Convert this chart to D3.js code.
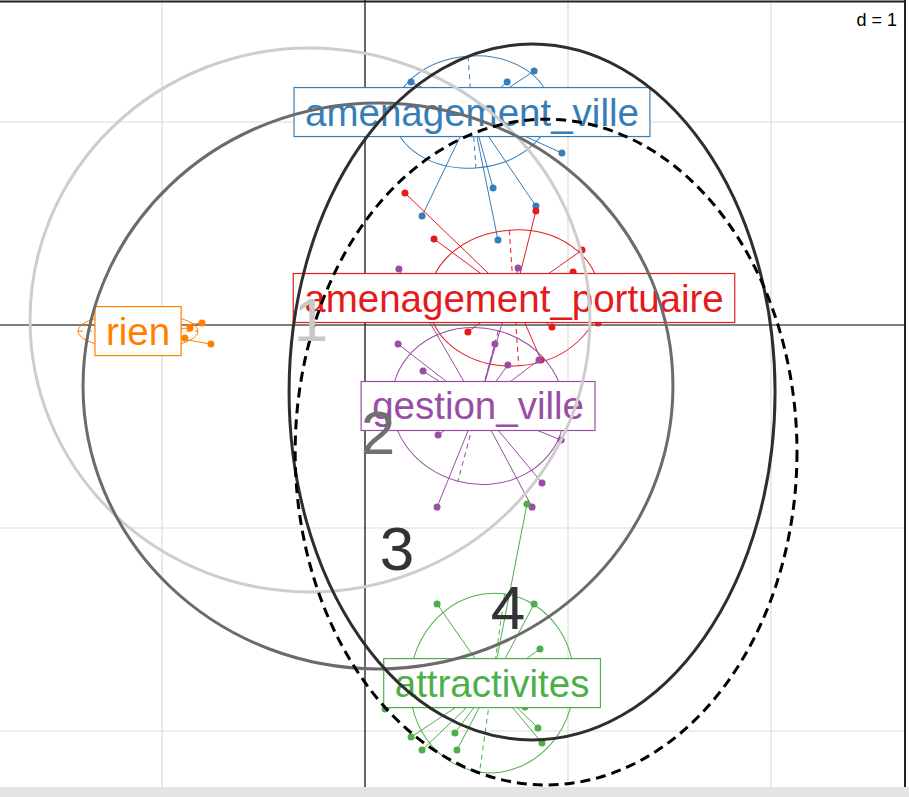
<!DOCTYPE html>
<html>
<head>
<meta charset="utf-8">
<script src="https://cdn.jsdelivr.net/npm/d3@7"></script>
<style>
  html, body { margin: 0; padding: 0; background: #fff; }
  svg { display: block; font-family: "Liberation Sans", Arial, sans-serif; }
</style>
</head>
<body>
<div id="chart"></div>
<script>
// groupes (s.class)
var groups = ["amenagement_ville", "amenagement_portuaire", "gestion_ville", "attractivites", "rien"];

// individus par groupe (coordonnees factorielles)
var ptsVille = [[0.227, 1.197], [0.700, 1.197], [0.833, 1.251], [0.970, 0.847], [0.631, 0.675],
                [0.842, 0.586], [0.281, 0.537], [0.655, 0.419], [0.419, 1.133], [0.591, 1.108]];
var ptsPort = [[0.197, 0.650], [0.340, 0.424], [0.842, 0.562], [1.069, 0.369], [1.025, 0.261],
               [0.921, -0.010], [1.148, 0.010], [0.507, -0.034], [0.867, -0.172]];
var ptsGestion = [[0.167, 0.276], [0.754, 0.281], [0.163, -0.094], [0.640, -0.094], [0.286, -0.227],
                  [0.704, -0.197], [0.857, -0.172], [0.360, -0.542], [0.966, -0.567], [0.872, -0.778],
                  [0.355, -0.897], [0.823, -0.897]];
var ptsAttract = [[0.355, -1.374], [0.833, -1.374], [0.862, -1.596], [0.798, -0.882], [0.852, -1.985],
                  [0.872, -2.059], [0.443, -2.010], [0.453, -2.094], [0.227, -2.030], [0.281, -2.094],
                  [0.099, -1.892], [0.788, -1.882]];
var ptsRien = [[-0.803, 0.010], [-0.759, -0.094], [-0.862, -0.015], [-0.887, -0.064], [-1.305, -0.025], [-1.256, -0.049]];

var groupPoints = [ptsVille, ptsPort, ptsGestion, ptsAttract, ptsRien];

// centres de gravite
var centroids = [[0.527, 1.049], [0.734, 0.133], [0.557, -0.399], [0.626, -1.764], [-1.118, -0.030]];
// ellipses : [rx, ry, angle en degres]
var ellipses = [[0.384, 0.276, -4], [0.422, 0.335, -4], [0.429, 0.384, 15], [0.404, 0.443, 8], [0.296, 0.089, 0]];

// cercles ajoutes (1 a 4) : centre x, centre y, rx, ry
var overlayNames = ["1", "2", "3", "4"];
var overlayCx = [-0.271, 0.064, 0.823, 0.892];
var overlayCy = [0.025, -0.300, -0.330, -0.626];
var overlayRx = [1.379, 1.453, 1.197, 1.236];
var overlayRy = [1.340, 1.394, 1.714, 1.640];
var overlayLabelPos = [[-0.266, 0.025], [0.064, -0.532], [0.158, -1.099], [0.704, -1.394]];

var gridX = [-1, 0, 1, 2];
var gridY = [1, 0, -1, -2];

var colors = ["#377EB8", "#E41A1C", "#984EA3", "#4DAF4A", "#FF7F00"];
var overlayColors = ["#cdcdcd", "#6b6b6b", "#2e2e2e", "#000000"];
var overlayLabelColors = ["#c8c8c8", "#707070", "#333333", "#333333"];

var width = 909, height = 797;
var plotRight = 905, plotBottom = 787;

// 1 unite = 203 px, origine en (365, 325)
var x = d3.scaleLinear().domain([0, 1]).range([365, 568]);
var y = d3.scaleLinear().domain([0, 1]).range([325, 122]);

var svg = d3.select("#chart").append("svg")
    .attr("width", width)
    .attr("height", height);

svg.append("rect").attr("width", width).attr("height", height).attr("fill", "#fff");

var plot = svg.append("g");

// grille
plot.selectAll(".gx").data(gridX.filter(function(d) { return d !== 0; }))
    .enter().append("line")
    .attr("x1", function(d) { return x(d); }).attr("x2", function(d) { return x(d); })
    .attr("y1", 0).attr("y2", plotBottom)
    .attr("stroke", "#dcdcdc").attr("stroke-width", 1.2);
plot.selectAll(".gy").data(gridY.filter(function(d) { return d !== 0; }))
    .enter().append("line")
    .attr("y1", function(d) { return y(d); }).attr("y2", function(d) { return y(d); })
    .attr("x1", 0).attr("x2", plotRight)
    .attr("stroke", "#dcdcdc").attr("stroke-width", 1.2);

// axes
plot.append("line").attr("x1", x(0)).attr("x2", x(0)).attr("y1", 0).attr("y2", plotBottom)
    .attr("stroke", "#000").attr("stroke-width", 1.2);
plot.append("line").attr("y1", y(0)).attr("y2", y(0)).attr("x1", 0).attr("x2", plotRight)
    .attr("stroke", "#000").attr("stroke-width", 1.2);

var px = x(1) - x(0);

// ellipses, etoiles et points
groups.forEach(function(name, i) {
    var g = plot.append("g");
    var c = centroids[i];
    var e = ellipses[i];
    var col = colors[i];
    var cx = x(c[0]), cy = y(c[1]);

    var eg = g.append("g").attr("transform", "translate(" + cx + "," + cy + ") rotate(" + e[2] + ")");
    eg.append("ellipse")
        .attr("rx", e[0] * px).attr("ry", e[1] * px)
        .attr("fill", "none").attr("stroke", col).attr("stroke-width", 1);
    eg.append("line").attr("x1", -e[0] * px).attr("x2", e[0] * px)
        .attr("stroke", col).attr("stroke-width", 1).attr("stroke-dasharray", "5,4");
    eg.append("line").attr("y1", -e[1] * px).attr("y2", e[1] * px)
        .attr("stroke", col).attr("stroke-width", 1).attr("stroke-dasharray", "5,4");

    g.selectAll(".star").data(groupPoints[i]).enter().append("line")
        .attr("x1", cx).attr("y1", cy)
        .attr("x2", function(d) { return x(d[0]); })
        .attr("y2", function(d) { return y(d[1]); })
        .attr("stroke", col).attr("stroke-width", 1);

    g.selectAll(".pt").data(groupPoints[i]).enter().append("circle")
        .attr("cx", function(d) { return x(d[0]); })
        .attr("cy", function(d) { return y(d[1]); })
        .attr("r", 3.5)
        .attr("fill", col);
});

// etiquettes
groups.forEach(function(name, i) {
    var c = centroids[i];
    var col = colors[i];
    var lg = plot.append("g");
    var box = lg.append("rect");
    var t = lg.append("text")
        .attr("x", x(c[0])).attr("y", y(c[1]))
        .attr("text-anchor", "middle")
        .attr("dominant-baseline", "central")
        .attr("font-size", 38.5)
        .attr("fill", col)
        .text(name);
    var w = t.node().getComputedTextLength();
    box.attr("x", x(c[0]) - w / 2 - 11).attr("y", y(c[1]) - 24.5)
        .attr("width", w + 22).attr("height", 49)
        .attr("fill", "#fff").attr("stroke", col).attr("stroke-width", 1.2);
});

// cercles ajoutes
overlayNames.forEach(function(n, i) {
    plot.append("ellipse")
        .attr("cx", x(overlayCx[i])).attr("cy", y(overlayCy[i]))
        .attr("rx", overlayRx[i] * px).attr("ry", overlayRy[i] * px)
        .attr("fill", "none")
        .attr("stroke", overlayColors[i])
        .attr("stroke-width", 3)
        .attr("stroke-dasharray", i === 3 ? "10,6" : null);
});
overlayNames.forEach(function(n, i) {
    plot.append("text")
        .attr("x", x(overlayLabelPos[i][0])).attr("y", y(overlayLabelPos[i][1]))
        .attr("text-anchor", "middle")
        .attr("dominant-baseline", "central")
        .attr("font-size", 62)
        .attr("fill", overlayLabelColors[i])
        .text(n);
});

// d = 1
svg.append("text").attr("x", 897).attr("y", 26)
    .attr("text-anchor", "end").attr("font-size", 18).attr("fill", "#000").text("d = 1");

// cadre
svg.append("line").attr("x1", 0).attr("x2", plotRight).attr("y1", 1.5).attr("y2", 1.5)
    .attr("stroke", "#222").attr("stroke-width", 2);
svg.append("line").attr("x1", plotRight).attr("x2", plotRight).attr("y1", 0).attr("y2", plotBottom)
    .attr("stroke", "#222").attr("stroke-width", 2);
svg.append("rect").attr("x", 0).attr("y", plotBottom).attr("width", width).attr("height", height - plotBottom)
    .attr("fill", "#e4e4e4");
</script>
</body>
</html>
